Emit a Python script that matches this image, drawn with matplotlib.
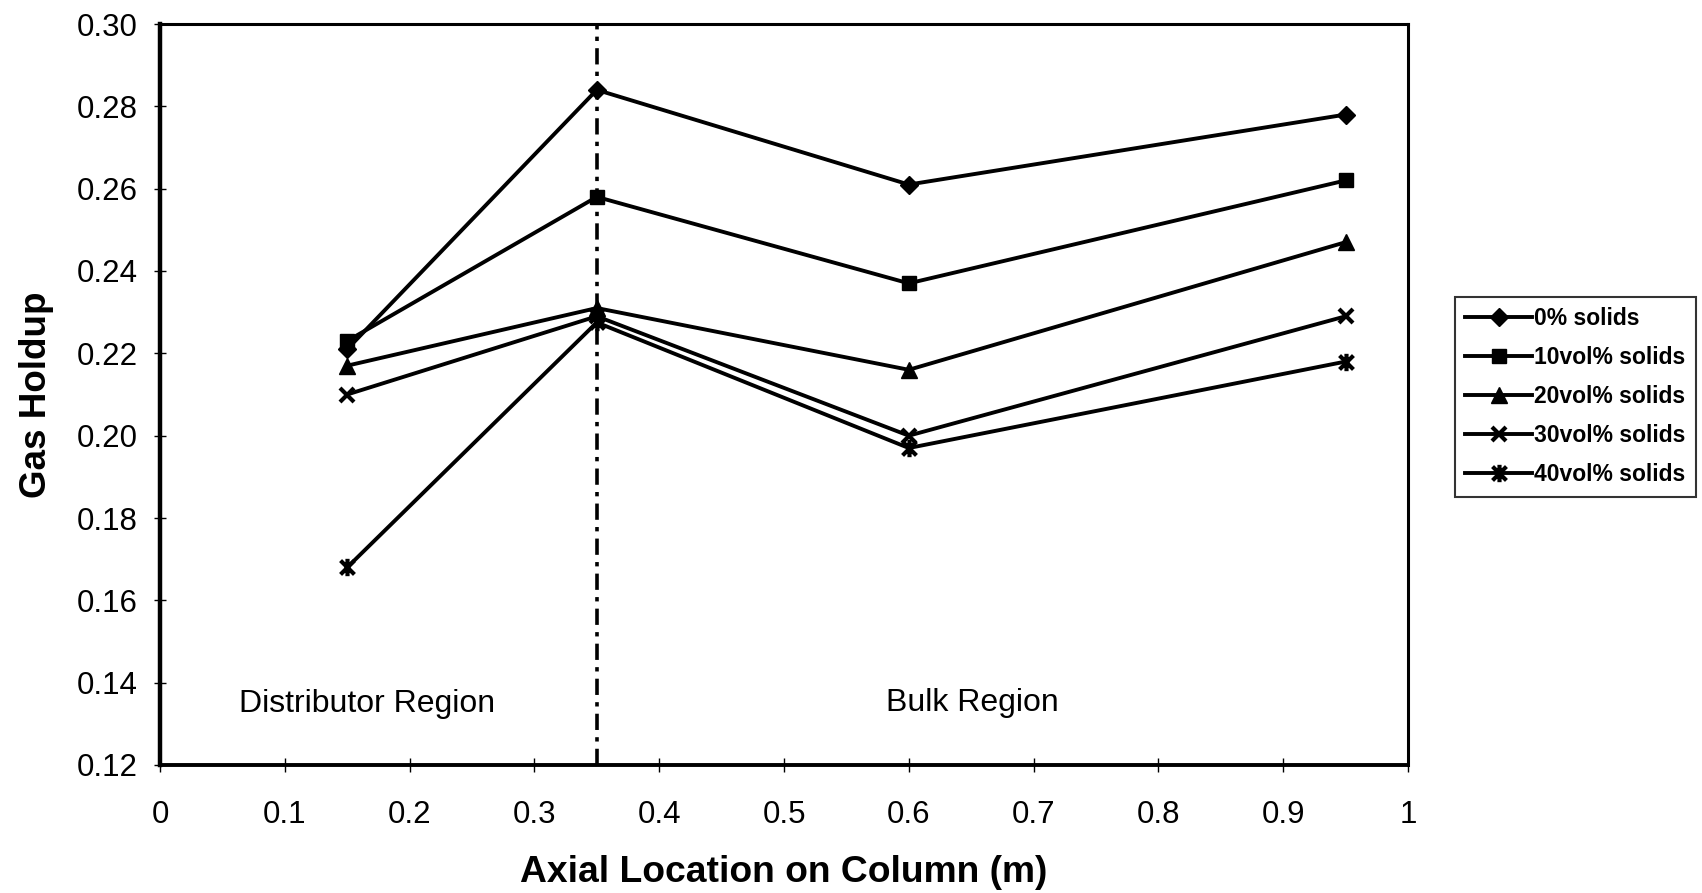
import matplotlib
matplotlib.use("Agg")
import matplotlib.pyplot as plt
from matplotlib.path import Path

plt.rcParams['font.family'] = ['Liberation Sans', 'DejaVu Sans']

# Axial positions (m) and gas holdup for each solids loading
positions = [0.15, 0.35, 0.6, 0.95]
holdup_0 = [0.221, 0.284, 0.261, 0.278]
holdup_10 = [0.223, 0.258, 0.237, 0.262]
holdup_20 = [0.217, 0.231, 0.216, 0.247]
holdup_30 = [0.210, 0.229, 0.200, 0.229]
holdup_40 = [0.168, 0.2275, 0.197, 0.218]
series_labels = ['0% solids', '10vol% solids', '20vol% solids',
                 '30vol% solids', '40vol% solids']

region_boundary = 0.35
x_ticks = [0, 0.1, 0.2, 0.3, 0.4, 0.5, 0.6, 0.7, 0.8, 0.9, 1]
x_tick_labels = ['0', '0.1', '0.2', '0.3', '0.4', '0.5', '0.6', '0.7', '0.8', '0.9', '1']
y_ticks = [0.12, 0.14, 0.16, 0.18, 0.20, 0.22, 0.24, 0.26, 0.28, 0.30]
y_tick_labels = ['0.12', '0.14', '0.16', '0.18', '0.20', '0.22', '0.24', '0.26', '0.28', '0.30']

# Star marker: an "x" crossed by a vertical bar
star = Path([(-1, -1), (1, 1), (-1, 1), (1, -1), (0, -1.25), (0, 1.25)],
            [Path.MOVETO, Path.LINETO, Path.MOVETO, Path.LINETO, Path.MOVETO, Path.LINETO])

fig = plt.figure(figsize=(17.02, 8.93), dpi=100)
ax = fig.add_axes([160 / 1702, 1 - 765 / 893, (1408 - 160) / 1702, (765 - 24) / 893])

ax.axvline(region_boundary, color='black', lw=2.6,
           linestyle=(0, (4.5, 2.0, 1.2, 2.0)), zorder=1)

styles = [
    dict(marker='D', markersize=9.5),
    dict(marker='s', markersize=10.5),
    dict(marker='^', markersize=11.5),
    dict(marker='x', markersize=10.5, markeredgewidth=3.0),
    dict(marker=star, markersize=12.5, markeredgewidth=3.0),
]
for values, label, st in zip([holdup_0, holdup_10, holdup_20, holdup_30, holdup_40],
                             series_labels, styles):
    ax.plot(positions, values, color='black', lw=2.8, label=label,
            markerfacecolor='black', markeredgecolor='black', zorder=3, **st)

ax.set_xlim(0, 1)
ax.set_ylim(0.12, 0.30)
ax.set_xticks(x_ticks)
ax.set_xticklabels(x_tick_labels)
ax.set_yticks(y_ticks)
ax.set_yticklabels(y_tick_labels)
ax.tick_params(axis='both', labelsize=22.5, colors='black', width=1.0)
ax.tick_params(axis='x', direction='inout', length=10, pad=20)
ax.tick_params(axis='y', direction='inout', length=8, pad=12)

for side, lw in [('left', 3.2), ('bottom', 2.8), ('top', 2.2), ('right', 2.2)]:
    ax.spines[side].set_linewidth(lw)
    ax.spines[side].set_color('black')

ax.text(0.166, 0.1348, 'Distributor Region', fontsize=23, ha='center', va='center')
ax.text(0.651, 0.135, 'Bulk Region', fontsize=23, ha='center', va='center')

ax.set_xlabel('Axial Location on Column (m)', fontsize=26.8, fontweight='bold')
ax.xaxis.set_label_coords(0.5, -0.145)
ax.xaxis.label.set_va('center')
ax.set_ylabel('Gas Holdup', fontsize=26.5, fontweight='bold')
ax.yaxis.set_label_coords(-0.099, 0.5)
ax.yaxis.label.set_va('center')

leg = fig.legend(loc='upper left', bbox_to_anchor=(1455 / 1702, 1 - 297 / 893),
                 prop={'size': 16.5, 'weight': 'bold'}, frameon=True, fancybox=False,
                 edgecolor='black', borderaxespad=0, handlelength=2.9,
                 handletextpad=0.1, labelspacing=0.70, borderpad=0.45)
leg.get_frame().set_linewidth(1.5)

fig.savefig('out.png', dpi=100, facecolor='white')
